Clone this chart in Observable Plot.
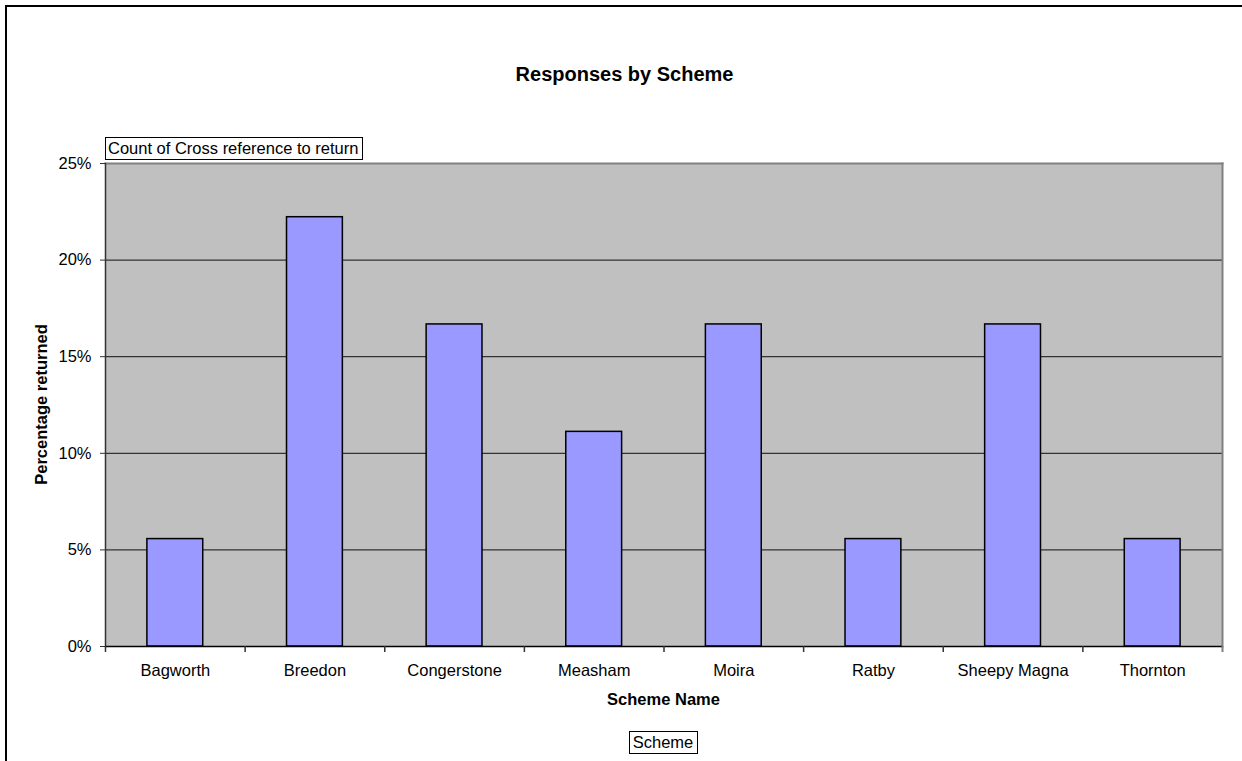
<!DOCTYPE html>
<html>
<head>
<meta charset="utf-8">
<script src="https://cdn.jsdelivr.net/npm/d3@7"></script>
<script src="https://cdn.jsdelivr.net/npm/@observablehq/plot@0.6"></script>
<style>
  html, body { margin: 0; padding: 0; background: #fff; }
  #chart svg { display: block; }
</style>
</head>
<body>
<div id="chart"></div>
<script>
// Share of returned responses per scheme
const schemes = ["Bagworth", "Breedon", "Congerstone", "Measham", "Moira", "Ratby", "Sheepy Magna", "Thornton"];
const shares = [0.0556, 0.2222, 0.1667, 0.1111, 0.1667, 0.0556, 0.1667, 0.0556];
const yTicks = [0, 0.05, 0.10, 0.15, 0.20, 0.25];
const yTickLabels = ["0%", "5%", "10%", "15%", "20%", "25%"];

const chartTitle = "Responses by Scheme";
const yTitle = "Percentage returned";
const xTitle = "Scheme Name";
const dataField = "Count of Cross reference to return";
const rowField = "Scheme";

const data = schemes.map((s, i) => ({scheme: s, share: shares[i]}));

const W = 1242, H = 761;
const mL = 105, mR = 20, mT = 163, mB = 115;
const step = (W - mL - mR) / schemes.length;
const font = "'Liberation Sans', Arial, Helvetica, sans-serif";

const svg = Plot.plot({
  width: W,
  height: H,
  marginLeft: mL,
  marginRight: mR,
  marginTop: mT,
  marginBottom: mB,
  style: {fontFamily: font, fontSize: "16.5px", color: "#000", background: "#fff"},
  x: {domain: schemes, paddingInner: 0.6, paddingOuter: 0.3, round: false, label: null},
  y: {domain: [0, 0.25], label: null},
  marks: [
    Plot.frame({fill: "#c0c0c0", stroke: null}),
    Plot.ruleY(yTicks.slice(1, -1), {stroke: "#333", strokeWidth: 1.2}),
    Plot.frame({anchor: "top", stroke: "#808080", strokeWidth: 2}),
    Plot.frame({anchor: "right", stroke: "#808080", strokeWidth: 2}),
    Plot.barY(data, {x: "scheme", y: "share", fill: "#9999ff", stroke: "#000", strokeWidth: 1.5}),
    Plot.frame({anchor: "left", stroke: "#333", strokeWidth: 1.5}),
    Plot.ruleY([0], {stroke: "#000", strokeWidth: 1.5}),
    Plot.axisY({
      ticks: yTicks,
      tickFormat: (d) => yTickLabels[yTicks.indexOf(d)],
      tickSize: 5,
      tickPadding: 9,
      stroke: "#333",
      label: null
    }),
    Plot.axisX({tickSize: 0, tickPadding: 18, label: null}),
    // tick marks on category boundaries
    Plot.axisX({ticks: schemes, tickSize: 6, text: null, dx: -step / 2, stroke: "#333", strokeWidth: 1.5, label: null}),
    Plot.axisX({ticks: schemes.slice(-1), tickSize: 6, text: null, dx: step / 2, stroke: "#808080", strokeWidth: 2, label: null})
  ]
});

document.getElementById("chart").appendChild(svg);

const root = d3.select(svg);

// outer chart border
root.append("rect")
  .attr("x", 6).attr("y", 6)
  .attr("width", W + 20).attr("height", H + 20)
  .attr("fill", "none").attr("stroke", "#000").attr("stroke-width", 2);

root.append("text")
  .attr("x", 624.5).attr("y", 81)
  .attr("text-anchor", "middle")
  .attr("font-family", font).attr("font-size", "20px").attr("font-weight", "bold")
  .text(chartTitle);

root.append("text")
  .attr("transform", `translate(46.5, ${(mT + H - mB) / 2}) rotate(-90)`)
  .attr("text-anchor", "middle")
  .attr("font-family", font).attr("font-size", "16.5px").attr("font-weight", "bold")
  .text(yTitle);

root.append("text")
  .attr("x", 663.5).attr("y", 705)
  .attr("text-anchor", "middle")
  .attr("font-family", font).attr("font-size", "16.5px").attr("font-weight", "bold")
  .text(xTitle);

// field buttons
function fieldButton(label, x, baseline, anchor) {
  const g = root.append("g");
  const t = g.append("text")
    .attr("x", x).attr("y", baseline)
    .attr("text-anchor", anchor)
    .attr("font-family", font).attr("font-size", "16.5px")
    .text(label);
  const b = t.node().getBBox();
  g.insert("rect", "text")
    .attr("x", Math.round(b.x - 3.5) + 0.5)
    .attr("y", baseline - 16.5)
    .attr("width", Math.round(b.width + 7))
    .attr("height", 22)
    .attr("fill", "#fff").attr("stroke", "#000").attr("stroke-width", 1);
}
fieldButton(dataField, 108, 154, "start");
fieldButton(rowField, 663, 748, "middle");
</script>
</body>
</html>
